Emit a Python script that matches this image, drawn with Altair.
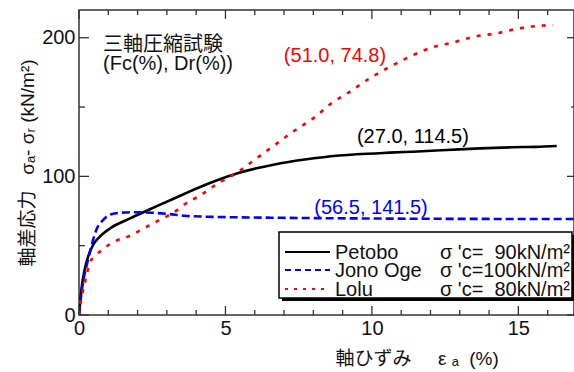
import altair as alt
import pandas as pd

# Stress-strain curves from triaxial compression tests (axial strain %, deviator stress kN/m2)
petobo_x = [0, 0.04, 0.08, 0.19, 0.31, 0.48, 0.71, 1.1, 1.67, 2.24, 2.81, 3.38, 3.79,
            4.47, 4.93, 5.26, 6.06, 7.2, 8.34, 9.48, 10.6, 11.4, 12.56, 13.69, 14.81,
            15.6, 16.31]
petobo_y = [0, 9, 18, 32.5, 42, 50.5, 56.5, 63, 69, 74.5, 80, 85.3, 89.2,
            95.2, 98.8, 101.2, 105.8, 110.6, 113.8, 115.9, 117.1, 117.8, 119, 120.2, 121,
            121.3, 121.9]

jono_x = [0, 0.05, 0.15, 0.25, 0.42, 0.59, 0.82, 1.1, 1.44, 1.9, 2.47, 3.04, 3.6,
          4.36, 5.0, 6.5, 8.0, 10.0, 12.0, 14.0, 16.9]
jono_y = [0, 10, 25.3, 34.8, 49.3, 61.3, 68.5, 72.7, 73.8, 74.1, 73.8, 72.9, 71.6,
          70.9, 70.6, 70.2, 69.9, 69.6, 69.4, 69.3, 69.2]

lolu_x = [0, 0.03, 0.14, 0.25, 0.36, 0.59, 0.93, 1.33, 1.67, 2.01, 2.36, 2.75, 3.09,
          3.44, 3.66, 4.07, 4.75, 5.44, 6.06, 6.69, 7.31, 8.0, 8.62, 9.25, 9.93,
          10.56, 11.3, 12.04, 12.78, 13.5, 14.26, 15.05, 15.85, 16.19]
lolu_y = [0, 6, 18, 27.6, 37.3, 43.3, 49.3, 54.1, 56.5, 60.1, 64.2, 68.5, 72.2,
          77, 80.6, 85.4, 95, 103.4, 113, 122.7, 132.3, 141.9, 152.7, 161.1, 170.8,
          178.4, 186.4, 192.9, 196.6, 200.8, 203.2, 206.8, 208.8, 209.2]

series_names = ["Petobo", "Jono Oge", "Lolu"]
series_colors = ["#000000", "#0000ff", "#ff0000"]
confining = ["σ 'c=\u00a0\u00a090kN/m²", "σ 'c=100kN/m²", "σ 'c=\u00a0\u00a080kN/m²"]

# (Fc, Dr) labels attached to each curve
pair_labels = ["(27.0, 114.5)", "(56.5, 141.5)", "(51.0, 74.8)"]
pair_x = [11.4, 9.97, 8.74]
pair_y = [128.4, 77.2, 186.9]

x_major = [0, 5, 10, 15]
x_minor = [v for v in range(0, 17) if v % 5 != 0]
y_major = [0, 100, 200]
y_minor = [50, 150]

W, H = 495, 305
XMAX, YMAX = 16.9, 220
FONT = "Liberation Sans, Arial, Noto Sans CJK JP"
NB = "\u00a0"

xscale = alt.Scale(domain=[0, XMAX], nice=False, zero=False)
yscale = alt.Scale(domain=[0, YMAX], nice=False, zero=False)

x_axis = alt.Axis(values=x_major, ticks=False, domain=False, grid=False, labelFlush=False,
                  labelFontSize=20, labelFont=FONT, labelColor="#111", labelPadding=3,
                  title=f"軸ひずみ{NB * 5}ε{NB}ₐ{NB * 2}(%)", titleFont=FONT,
                  titleFontSize=19, titleFontWeight="normal", titleColor="#111",
                  titleX=256, titleY=49, titleAlign="left", titleBaseline="alphabetic",
                  titleAnchor="start")
y_axis = alt.Axis(values=y_major, ticks=False, domain=False, grid=False, labelFlush=False,
                  labelFontSize=20, labelFont=FONT, labelColor="#111", labelPadding=4,
                  title=f"軸差応力{NB * 3}σₐ-{NB}σᵣ{NB}(kN/m²)", titleFont=FONT,
                  titleFontSize=19, titleFontWeight="normal", titleColor="#111",
                  titlePadding=4)

X = alt.X("x:Q", scale=xscale, axis=x_axis)
Y = alt.Y("y:Q", scale=yscale, axis=y_axis)

layers = []

# curves
dashes = [None, [8, 4], [4, 7]]
for i, (xs, ys) in enumerate([(petobo_x, petobo_y), (jono_x, jono_y), (lolu_x, lolu_y)]):
    df = pd.DataFrame({"x": xs, "y": ys})
    kw = dict(color=series_colors[i], strokeWidth=2.6, interpolate="monotone", clip=True)
    if dashes[i]:
        kw["strokeDash"] = dashes[i]
    layers.append(alt.Chart(df).mark_line(**kw).encode(x=X, y=Y, order="x:Q"))

# inward tick marks on all four sides
def xticks(vals, length, top):
    d = pd.DataFrame({"x": vals})
    y0, y1 = (0, length) if top else (H, H - length)
    return alt.Chart(d).mark_rule(color="#333", strokeWidth=1.3).encode(
        x=X, y=alt.value(y0), y2=alt.value(y1))

def yticks(vals, length, right):
    d = pd.DataFrame({"y": vals})
    x0, x1 = (W, W - length) if right else (0, length)
    return alt.Chart(d).mark_rule(color="#333", strokeWidth=1.3).encode(
        y=Y, x=alt.value(x0), x2=alt.value(x1))

layers += [xticks(x_major, 9, False), xticks(x_minor, 5, False),
           xticks(x_major, 9, True), xticks(x_minor, 5, True),
           yticks(y_major, 10, False), yticks(y_minor, 6, False),
           yticks(y_major, 7, True), yticks(y_minor, 3, True)]

# curve annotations
for i in range(3):
    d = pd.DataFrame({"x": [pair_x[i]], "y": [pair_y[i]], "t": [pair_labels[i]]})
    layers.append(alt.Chart(d).mark_text(font=FONT, fontSize=20, color=series_colors[i],
                                         align="center", baseline="middle").encode(
        x=X, y=Y, text="t:N"))

head = pd.DataFrame({"x": [0.82, 0.82], "y": [194.8, 181.1],
                     "t": ["三軸圧縮試験", "(Fc(%), Dr(%))"]})
layers.append(alt.Chart(head).mark_text(font=FONT, fontSize=20, color="#111",
                                        align="left", baseline="middle").encode(
    x=X, y=Y, text="t:N"))

# legend box with drop shadow
one = pd.DataFrame({"k": [0]})
layers.append(alt.Chart(one).mark_rect(color="#000").encode(
    x=alt.value(203), x2=alt.value(496), y=alt.value(225), y2=alt.value(291)))
layers.append(alt.Chart(one).mark_rect(fill="white", stroke="#000", strokeWidth=1.5).encode(
    x=alt.value(200), x2=alt.value(493), y=alt.value(222), y2=alt.value(288)))

row_y = [242, 260, 279]
legend_dashes = [None, [6, 4], [3, 6]]
for i in range(3):
    kw = dict(color=series_colors[i], strokeWidth=2)
    if legend_dashes[i]:
        kw["strokeDash"] = legend_dashes[i]
    layers.append(alt.Chart(one).mark_rule(**kw).encode(
        x=alt.value(206), x2=alt.value(251), y=alt.value(row_y[i])))
    layers.append(alt.Chart(one).mark_text(font=FONT, fontSize=20, color="#111",
                                           align="left", baseline="middle").encode(
        x=alt.value(256), y=alt.value(row_y[i] + 1), text=alt.value(series_names[i])))
    layers.append(alt.Chart(one).mark_text(font=FONT, fontSize=20, color="#111",
                                           align="right", baseline="middle").encode(
        x=alt.value(491), y=alt.value(row_y[i] + 1), text=alt.value(confining[i])))

chart = alt.layer(*layers).properties(
    width=W, height=H,
    padding={"left": 79, "top": 10, "right": 0, "bottom": 57},
    autosize=alt.AutoSizeParams(type="none"),
    background="white",
).configure_view(stroke="#333", strokeWidth=1.5)

chart.save("out.html", embed_options={"renderer": "svg", "actions": False})
